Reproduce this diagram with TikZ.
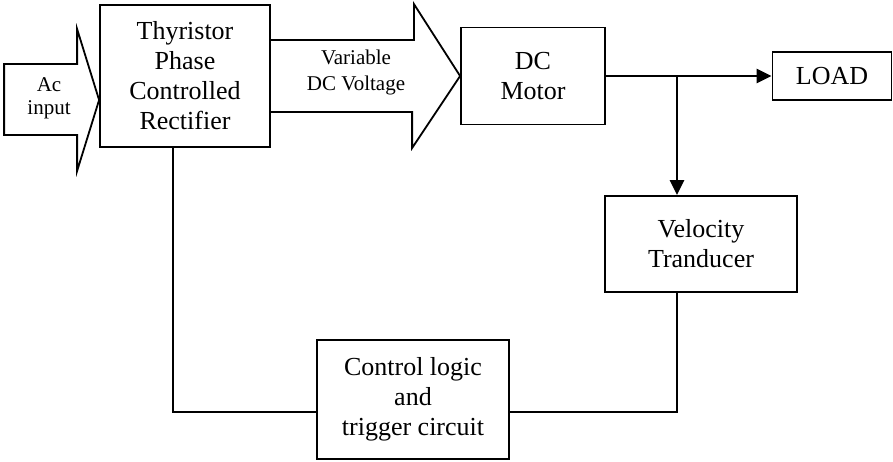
\documentclass[tikz,border=0pt]{standalone}
\usepackage{fontspec}
\setmainfont{Liberation Serif}
\usetikzlibrary{arrows.meta, positioning, calc}
\tikzset{
  every picture/.style={x=1pt, y=-1pt, line width=1.8pt},
  blk/.style={draw, line width=1.8pt, align=center, inner sep=0pt, font=\fontsize{26}{30}\selectfont},
  flow/.style={-{Triangle[length=15pt, width=14pt]}, line width=2.6pt},
  wire/.style={line width=1.6pt},
  fat/.style={draw, line width=1.8pt, line join=miter},
  small/.style={align=center, inner sep=0pt},
}

\begin{document}
\begin{tikzpicture}
  \useasboundingbox (0,0) rectangle (893,461);
  \node[blk, minimum width=170pt, minimum height=142pt] (rect) at (185,76) {Thyristor\\Phase\\Controlled\\Rectifier};
  \node[blk, minimum width=144pt, minimum height=97pt] (motor) at (533,76) {DC\\Motor};
  \node[blk, minimum width=119pt, minimum height=48pt] (load) at (832,76) {LOAD};
  \node[blk, minimum width=192pt, minimum height=96pt] (velo) at (701,244) {Velocity\\Tranducer};
  \node[blk, minimum width=192pt, minimum height=119pt] (ctrl) at (413,399.5) {Control logic\\and\\trigger circuit};
  \coordinate (actip) at ($(rect.west)+(0,24)$);
  \coordinate (tap) at (677,76);
  \draw[fat] (actip) -- ++(-22,-71) -- ++(0,35) -- ++(-73,0) -- ++(0,71) -- ++(73,0) -- ++(0,36) -- cycle;
  \draw[fat] ($(rect.east)+(0,-36)$) -- ++(143,0) -- ++(0,-36) -- (motor.west) -- ++(-48,72) -- ++(0,-36) -- ($(rect.east)+(0,36)$);
  \node[small, font=\fontsize{21}{23}\selectfont] (acl) at (49,98) {Ac\\input};
  \node[small, font=\fontsize{21}{26}\selectfont] (vdc) at (356,72) {Variable\\DC Voltage};
  \draw[flow] (motor.east) -- (load.west);
  \draw[flow] (tap) -- (tap |- velo.north);
  \draw[wire] (tap |- velo.south) |- ($(ctrl.east)+(0,12.5)$);
  \draw[wire] ($(rect.south)+(-12,0)$) |- ($(ctrl.west)+(0,12.5)$);
\end{tikzpicture}
\end{document}
